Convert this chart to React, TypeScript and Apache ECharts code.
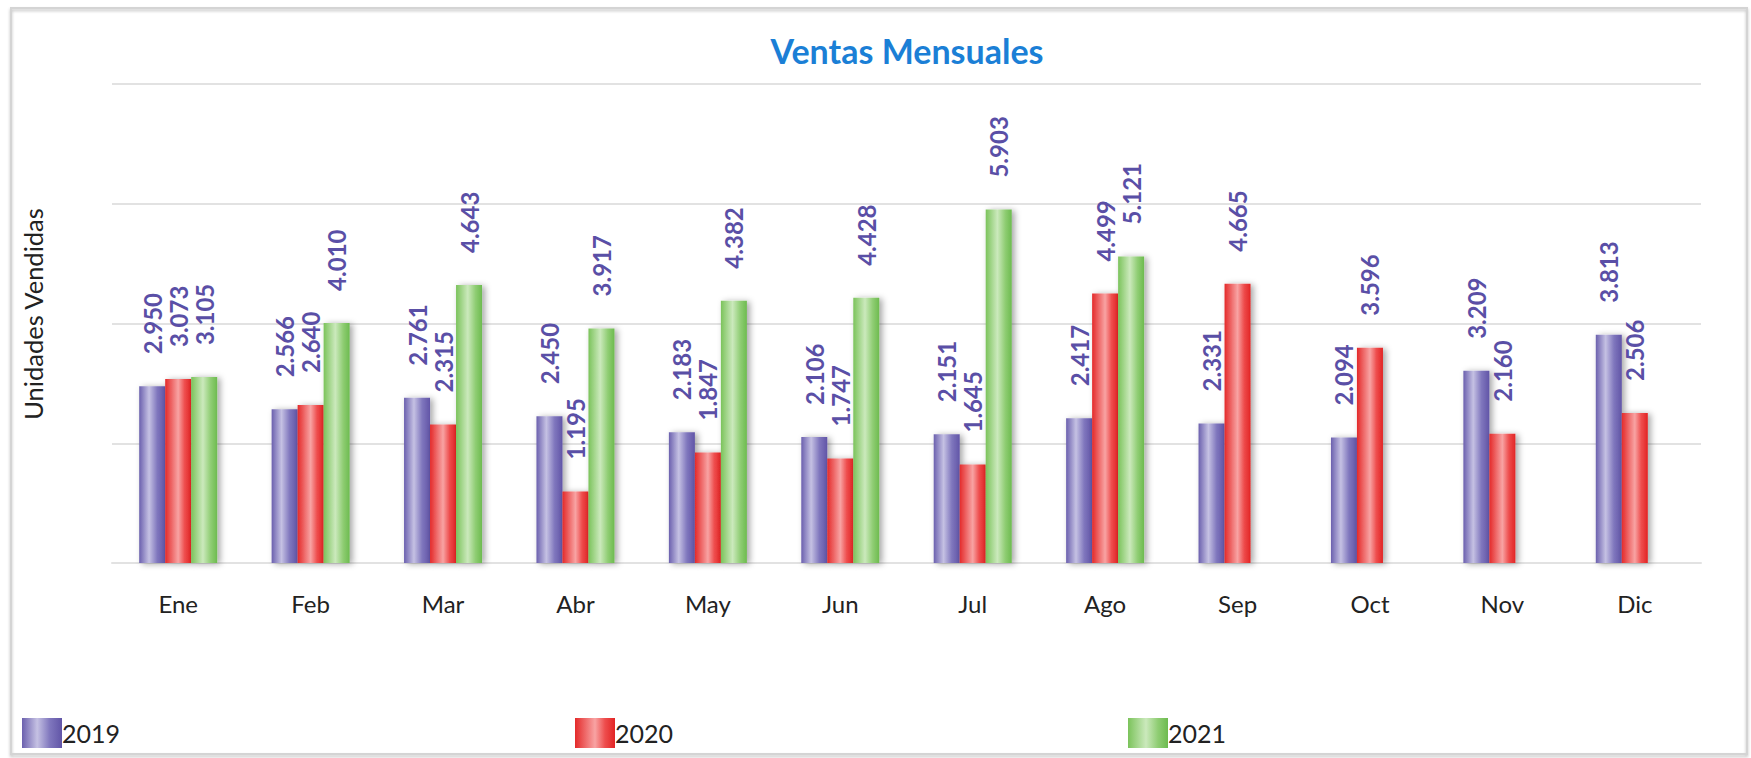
import React, { useEffect, useRef } from "react";
import * as echarts from "echarts";

const months = ["Ene", "Feb", "Mar", "Abr", "May", "Jun", "Jul", "Ago", "Sep", "Oct", "Nov", "Dic"];
const seriesNames = ["2019", "2020", "2021"];
const v2019 = [2950, 2566, 2761, 2450, 2183, 2106, 2151, 2417, 2331, 2094, 3209, 3813];
const v2020 = [3073, 2640, 2315, 1195, 1847, 1747, 1645, 4499, 4665, 3596, 2160, 2506];
const v2021 = [3105, 4010, 4643, 3917, 4382, 4428, 5903, 5121, null, null, null, null];

const FONT = "Lato, 'Open Sans', sans-serif";

function fmt(v: number) {
  return String(v).replace(/\B(?=(\d{3})+(?!\d))/g, ".");
}

function grad(stops: [number, string][]) {
  return new echarts.graphic.LinearGradient(
    0, 0, 1, 0,
    stops.map(([offset, color]) => ({ offset, color }))
  );
}

export default function App() {
  const ref = useRef<HTMLDivElement>(null);
  useEffect(() => {
    document.body.style.margin = "0";
    const chart = echarts.init(ref.current!, null, { renderer: "svg" });
    const colors = [
      grad([[0, "#6b60ae"], [0.38, "#c5c1e3"], [0.7, "#7f76bd"], [1, "#6155a7"]]),
      grad([[0, "#e42a2a"], [0.5, "#f8a3a3"], [0.75, "#ee4d4d"], [1, "#e22424"]]),
      grad([[0, "#7bc35b"], [0.45, "#cbe9bc"], [0.75, "#8fcd73"], [1, "#6dbb4f"]]),
    ];
    const data = [v2019, v2020, v2021];
    const legendLefts = [22, 575, 1128];
    chart.setOption({
      animation: false,
      backgroundColor: "#ffffff",
      graphic: [
        {
          type: "rect",
          shape: { x: 11, y: 8, width: 1736, height: 746 },
          style: {
            fill: "none",
            stroke: "#d4d4d4",
            lineWidth: 2,
            shadowBlur: 3,
            shadowOffsetY: 2,
            shadowColor: "rgba(0,0,0,0.25)",
          },
          silent: true,
          z: -1,
        },
        {
          type: "text",
          x: 907,
          y: 50,
          style: {
            text: "Ventas Mensuales",
            fill: "#1b7fd6",
            font: `bold 34px ${FONT}`,
            align: "center",
            verticalAlign: "middle",
          },
        },
        {
          type: "text",
          x: 33,
          y: 314,
          rotation: Math.PI / 2,
          style: {
            text: "Unidades Vendidas",
            fill: "#222222",
            font: `25.5px ${FONT}`,
            align: "center",
            verticalAlign: "middle",
          },
        },
      ],
      legend: seriesNames.map((name, i) => ({
        data: [name],
        left: legendLefts[i],
        top: 718,
        padding: 0,
        itemWidth: 40,
        itemHeight: 30,
        icon: "rect",
        itemStyle: { shadowBlur: 0, shadowOffsetX: 0, shadowOffsetY: 0 },
        textStyle: { fontFamily: FONT, fontSize: 25, color: "#222222", padding: [0, 0, 0, -5] },
      })),
      grid: { left: 112, right: 50, top: 84, bottom: 195 },
      xAxis: {
        type: "category",
        data: months,
        axisLine: { lineStyle: { color: "#e2e2e2", width: 2 } },
        axisTick: { show: false },
        axisLabel: { fontFamily: FONT, fontSize: 24, color: "#222222", margin: 28 },
      },
      yAxis: {
        type: "value",
        min: 0,
        max: 8000,
        interval: 2000,
        axisLabel: { show: false },
        axisLine: { show: false },
        axisTick: { show: false },
        splitLine: { lineStyle: { color: "#e2e2e2", width: 2 } },
      },
      series: seriesNames.map((name, i) => ({
        name,
        type: "bar",
        data: data[i],
        barWidth: 26,
        barGap: "0%",
        itemStyle: {
          color: colors[i],
          shadowColor: "rgba(0,0,0,0.35)",
          shadowBlur: 6,
          shadowOffsetX: 3,
          shadowOffsetY: 1,
        },
        label: {
          show: true,
          position: "top",
          rotate: 90,
          align: "left",
          verticalAlign: "middle",
          distance: 32,
          fontFamily: FONT,
          fontSize: 24,
          fontWeight: "bold",
          color: "#5a4fa6",
          formatter: (p: any) => (p.value == null ? "" : fmt(p.value)),
        },
      })),
    });
    return () => chart.dispose();
  }, []);
  return <div ref={ref} style={{ width: 1751, height: 758 }} />;
}
